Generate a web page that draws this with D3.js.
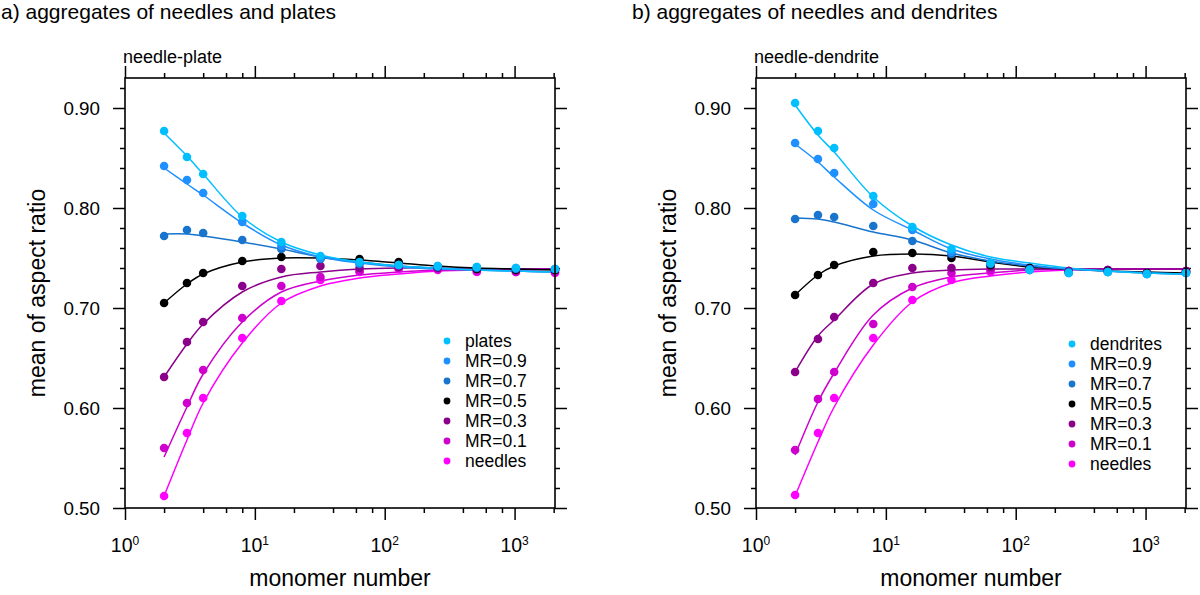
<!DOCTYPE html>
<html>
<head>
<meta charset="utf-8">
<script src="https://cdn.jsdelivr.net/npm/d3@7"></script>
<style>
  body { margin: 0; background: #fff; }
  svg text { font-family: "Liberation Sans", Arial, Helvetica, sans-serif; fill: #000; }
</style>
</head>
<body>
<svg id="chart" width="1200" height="595"></svg>
<script>
// monomer numbers where the aspect ratio was sampled
const monomers = [2, 3, 4, 8, 16, 32, 64, 128, 256, 512, 1024, 2048];

const namesA = ["plates", "MR=0.9", "MR=0.7", "MR=0.5", "MR=0.3", "MR=0.1", "needles"];
const namesB = ["dendrites", "MR=0.9", "MR=0.7", "MR=0.5", "MR=0.3", "MR=0.1", "needles"];
const seriesColors = ["#00bfff", "#1e90ff", "#1874cd", "#000000", "#8b008b", "#cd00cd", "#ff00ff"];

// a) needle-plate: simulated means
const aPlates  = [0.877, 0.851, 0.834, 0.792, 0.766, 0.752, 0.746, 0.743, 0.742, 0.741, 0.740, 0.739];
const aMR09    = [0.842, 0.828, 0.815, 0.786, 0.762, 0.750, 0.745, 0.743, 0.742, 0.741, 0.740, 0.739];
const aMR07    = [0.772, 0.778, 0.775, 0.768, 0.759, 0.749, 0.744, 0.743, 0.741, 0.740, 0.739, 0.739];
const aMR05    = [0.705, 0.725, 0.735, 0.747, 0.751, 0.750, 0.749, 0.746, 0.741, 0.739, 0.738, 0.738];
const aMR03    = [0.631, 0.666, 0.686, 0.722, 0.739, 0.742, 0.740, 0.741, 0.740, 0.739, 0.738, 0.738];
const aMR01    = [0.560, 0.605, 0.638, 0.690, 0.722, 0.731, 0.737, 0.740, 0.739, 0.737, 0.736, 0.736];
const aNeedles = [0.512, 0.575, 0.610, 0.670, 0.707, 0.728, 0.736, 0.739, 0.738, 0.736, 0.736, 0.735];

// a) fitted curves, read at the same monomer numbers
const aPlatesFit  = [0.875, 0.852, 0.834, 0.791, 0.766, 0.753, 0.746, 0.742, 0.740, 0.738, 0.737, 0.736];
const aMR09Fit    = [0.840, 0.824, 0.813, 0.785, 0.763, 0.751, 0.745, 0.741, 0.739, 0.738, 0.737, 0.736];
const aMR07Fit    = [0.774, 0.774, 0.772, 0.766, 0.759, 0.751, 0.746, 0.742, 0.740, 0.738, 0.737, 0.736];
const aMR05Fit    = [0.705, 0.724, 0.734, 0.746, 0.750, 0.750, 0.748, 0.745, 0.742, 0.740, 0.739, 0.738];
const aMR03Fit    = [0.631, 0.664, 0.684, 0.716, 0.731, 0.736, 0.739, 0.740, 0.740, 0.739, 0.739, 0.739];
const aMR01Fit    = [0.551, 0.601, 0.634, 0.686, 0.716, 0.727, 0.733, 0.736, 0.738, 0.738, 0.739, 0.739];
const aNeedlesFit = [0.512, 0.568, 0.605, 0.665, 0.705, 0.722, 0.730, 0.734, 0.737, 0.738, 0.738, 0.739];

// b) needle-dendrite: simulated means
const bDendrites = [0.905, 0.877, 0.860, 0.812, 0.781, 0.759, 0.745, 0.738, 0.735, 0.736, 0.734, 0.735];
const bMR09      = [0.865, 0.849, 0.835, 0.804, 0.778, 0.756, 0.745, 0.738, 0.735, 0.736, 0.734, 0.735];
const bMR07      = [0.789, 0.793, 0.791, 0.782, 0.767, 0.754, 0.744, 0.739, 0.736, 0.736, 0.734, 0.735];
const bMR05      = [0.713, 0.733, 0.743, 0.756, 0.755, 0.750, 0.743, 0.740, 0.736, 0.737, 0.735, 0.736];
const bMR03      = [0.636, 0.669, 0.691, 0.725, 0.740, 0.740, 0.741, 0.740, 0.737, 0.738, 0.735, 0.737];
const bMR01      = [0.558, 0.609, 0.636, 0.684, 0.721, 0.735, 0.738, 0.739, 0.737, 0.738, 0.735, 0.737];
const bNeedles   = [0.513, 0.575, 0.610, 0.670, 0.708, 0.728, 0.736, 0.738, 0.737, 0.738, 0.735, 0.737];

// b) fitted curves
const bDendritesFit = [0.903, 0.873, 0.856, 0.811, 0.782, 0.763, 0.751, 0.745, 0.740, 0.737, 0.735, 0.734];
const bMR09Fit      = [0.864, 0.846, 0.831, 0.798, 0.778, 0.759, 0.749, 0.743, 0.739, 0.737, 0.735, 0.734];
const bMR07Fit      = [0.790, 0.789, 0.786, 0.776, 0.768, 0.755, 0.747, 0.742, 0.739, 0.737, 0.735, 0.734];
const bMR05Fit      = [0.713, 0.733, 0.742, 0.752, 0.754, 0.752, 0.746, 0.741, 0.739, 0.737, 0.736, 0.735];
const bMR03Fit      = [0.636, 0.672, 0.688, 0.724, 0.735, 0.738, 0.739, 0.739, 0.739, 0.739, 0.739, 0.739];
const bMR01Fit      = [0.553, 0.606, 0.635, 0.693, 0.720, 0.731, 0.735, 0.738, 0.739, 0.739, 0.739, 0.739];
const bNeedlesFit   = [0.512, 0.566, 0.601, 0.663, 0.706, 0.725, 0.732, 0.736, 0.738, 0.739, 0.739, 0.739];

// axis ticks
const xMajor = [1, 10, 100, 1000];
const xMinor = [2, 4, 6, 8, 20, 40, 60, 80, 200, 400, 600, 800, 2000];
const yMajor = [0.5, 0.6, 0.7, 0.8, 0.9];

const svg = d3.select("#chart");
const width = 430, height = 430, plotTop = 78;

const x = d3.scaleLog().domain([1, 2048]).range([0, width]);
const y = d3.scaleLinear().domain([0.50, 0.93]).range([height, 0]);
const yMinor = d3.range(0.52, 0.93, 0.02).filter(v => Math.abs(v * 10 - Math.round(v * 10)) > 0.01);

function styleAxis(a) {
    a.select(".domain").remove();
    a.selectAll(".tick line").attr("stroke", "#000").attr("stroke-width", 1.5);
}

function drawPanel(left, title, subtitle, names, points, fits, legendTop, legendLeft) {
    const g = svg.append("g").attr("transform", `translate(${left},${plotTop})`);

    //ticks on all four sides, pointing outwards
    g.append("g").attr("transform", `translate(0,${height})`)
        .call(d3.axisBottom(x).tickValues(xMajor).tickSize(12).tickFormat("")).call(styleAxis);
    g.append("g").attr("transform", `translate(0,${height})`)
        .call(d3.axisBottom(x).tickValues(xMinor).tickSize(5).tickFormat("")).call(styleAxis);
    g.append("g")
        .call(d3.axisTop(x).tickValues(xMajor).tickSize(12).tickFormat("")).call(styleAxis);
    g.append("g")
        .call(d3.axisTop(x).tickValues(xMinor).tickSize(5).tickFormat("")).call(styleAxis);

    g.append("g")
        .call(d3.axisLeft(y).tickValues(yMajor).tickSize(12).tickPadding(13).tickFormat(d3.format(".2f")))
        .call(styleAxis)
        .selectAll("text").style("font-size", "18.8px");
    g.append("g")
        .call(d3.axisLeft(y).tickValues(yMinor).tickSize(5).tickFormat("")).call(styleAxis);
    g.append("g").attr("transform", `translate(${width},0)`)
        .call(d3.axisRight(y).tickValues(yMajor).tickSize(12).tickFormat("")).call(styleAxis);
    g.append("g").attr("transform", `translate(${width},0)`)
        .call(d3.axisRight(y).tickValues(yMinor).tickSize(5).tickFormat("")).call(styleAxis);

    //power-of-ten labels with superscript
    const xl = g.append("g").selectAll("text")
        .data(xMajor)
        .join("text")
        .attr("x", d => x(d))
        .attr("y", height + 44)
        .attr("text-anchor", "middle")
        .style("font-size", "19.5px");
    xl.append("tspan").text("10");
    xl.append("tspan")
        .attr("dy", -7)
        .style("font-size", "12px")
        .text(d => Math.round(Math.log10(d)));

    //fitted curves, then points, drawn needles first
    const line = d3.line()
        .x((d, i) => x(monomers[i]))
        .y(d => y(d))
        .curve(d3.curveCatmullRom.alpha(0.5));

    const order = d3.range(names.length).reverse();

    g.append("g").selectAll("path")
        .data(order)
        .join("path")
        .attr("d", i => line(fits[i]))
        .attr("fill", "none")
        .attr("stroke", i => seriesColors[i])
        .attr("stroke-width", 1.5);

    order.forEach(i => {
        g.append("g").selectAll("circle")
            .data(points[i])
            .join("circle")
            .attr("cx", (d, j) => x(monomers[j]))
            .attr("cy", d => y(d))
            .attr("r", 4.3)
            .attr("fill", seriesColors[i]);
    });

    //frame
    g.append("rect")
        .attr("width", width)
        .attr("height", height)
        .attr("fill", "none")
        .attr("stroke", "#000")
        .attr("stroke-width", 1.6);

    //legend
    const legend = g.selectAll(".legend")
        .data(names)
        .join("g")
        .attr("class", "legend")
        .attr("transform", (d, i) => `translate(${legendLeft},${legendTop + i * 20})`);
    legend.append("circle")
        .attr("r", 3.4)
        .attr("fill", (d, i) => seriesColors[i]);
    legend.append("text")
        .attr("x", 18)
        .attr("dy", "0.36em")
        .style("font-size", "17.5px")
        .text(d => d);

    //labels
    g.append("text")
        .attr("x", -124)
        .attr("y", 19 - plotTop)
        .style("font-size", "21px")
        .text(title);

    g.append("text")
        .attr("x", -2)
        .attr("y", -15)
        .style("font-size", "18px")
        .text(subtitle);

    g.append("text")
        .attr("x", width / 2)
        .attr("y", 586 - plotTop)
        .attr("text-anchor", "middle")
        .style("font-size", "23px")
        .text("monomer number");

    g.append("text")
        .attr("transform", "rotate(-90)")
        .attr("x", -height / 2)
        .attr("y", -80)
        .attr("text-anchor", "middle")
        .style("font-size", "23px")
        .text("mean of aspect ratio");
}

drawPanel(125, "a) aggregates of needles and plates", "needle-plate", namesA,
    [aPlates, aMR09, aMR07, aMR05, aMR03, aMR01, aNeedles],
    [aPlatesFit, aMR09Fit, aMR07Fit, aMR05Fit, aMR03Fit, aMR01Fit, aNeedlesFit],
    263, 322);

drawPanel(756, "b) aggregates of needles and dendrites", "needle-dendrite", namesB,
    [bDendrites, bMR09, bMR07, bMR05, bMR03, bMR01, bNeedles],
    [bDendritesFit, bMR09Fit, bMR07Fit, bMR05Fit, bMR03Fit, bMR01Fit, bNeedlesFit],
    266, 316);
</script>
</body>
</html>
